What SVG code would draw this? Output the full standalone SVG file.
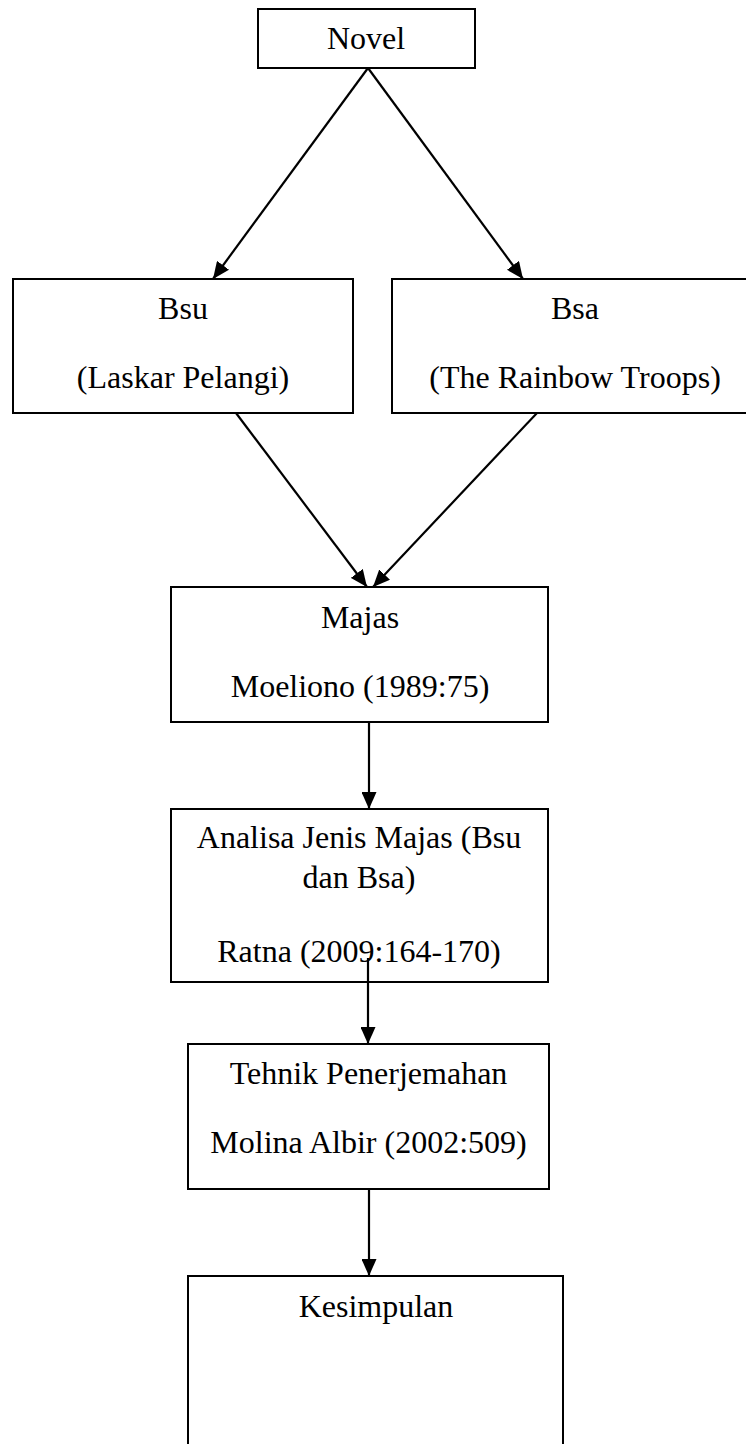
<svg xmlns="http://www.w3.org/2000/svg" width="746" height="1444" viewBox="0 0 746 1444">
<style>
.box{fill:#fff;stroke:#000;stroke-width:2}
.t{font-family:"Liberation Serif","Times New Roman",serif;font-size:32px;fill:#000;text-anchor:middle}
.c{stroke:#000;stroke-width:2.2;fill:none;marker-end:url(#ah)}
</style>
<defs>
<marker id="ah" markerUnits="userSpaceOnUse" markerWidth="17" markerHeight="15" refX="17" refY="7.5" orient="auto">
<path d="M0,0 L17,7.5 L0,15 z" fill="#000"/>
</marker>
</defs>
<rect width="746" height="1444" fill="#fff"/>
<g id="n-novel"><rect class="box" x="258" y="9" width="217" height="59"/><text class="t" x="366" y="49">Novel</text></g>
<g id="n-bsu"><rect class="box" x="13" y="279" width="340" height="134"/><text class="t" x="183" y="319">Bsu</text><text class="t" x="183" y="388">(Laskar Pelangi)</text></g>
<g id="n-bsa"><rect class="box" x="392" y="279" width="370" height="134"/><text class="t" x="575" y="319">Bsa</text><text class="t" x="575" y="388">(The Rainbow Troops)</text></g>
<g id="n-majas"><rect class="box" x="171" y="587" width="377" height="135"/><text class="t" x="360" y="628">Majas</text><text class="t" x="360" y="697">Moeliono (1989:75)</text></g>
<g id="n-analisa"><rect class="box" x="171" y="809" width="377" height="173"/><text class="t" x="359" y="848">Analisa Jenis Majas (Bsu</text><text class="t" x="359" y="888">dan Bsa)</text><text class="t" x="359" y="962">Ratna (2009:164-170)</text></g>
<g id="n-tehnik"><rect class="box" x="188" y="1044" width="361" height="145"/><text class="t" x="368.5" y="1084">Tehnik Penerjemahan</text><text class="t" x="368.5" y="1153">Molina Albir (2002:509)</text></g>
<g id="n-kesimpulan"><rect class="box" x="188" y="1276" width="375" height="180"/><text class="t" x="376" y="1317">Kesimpulan</text></g>
<g id="connectors">
<line class="c" x1="368" y1="68" x2="213" y2="279"/>
<line class="c" x1="368" y1="68" x2="523" y2="279"/>
<line class="c" x1="236" y1="413" x2="367" y2="587"/>
<line class="c" x1="537" y1="413" x2="373" y2="587"/>
<line class="c" x1="369" y1="722" x2="369" y2="809"/>
<line class="c" x1="368" y1="958" x2="368" y2="1044"/>
<line class="c" x1="369" y1="1189" x2="369" y2="1276"/>
</g>
</svg>
